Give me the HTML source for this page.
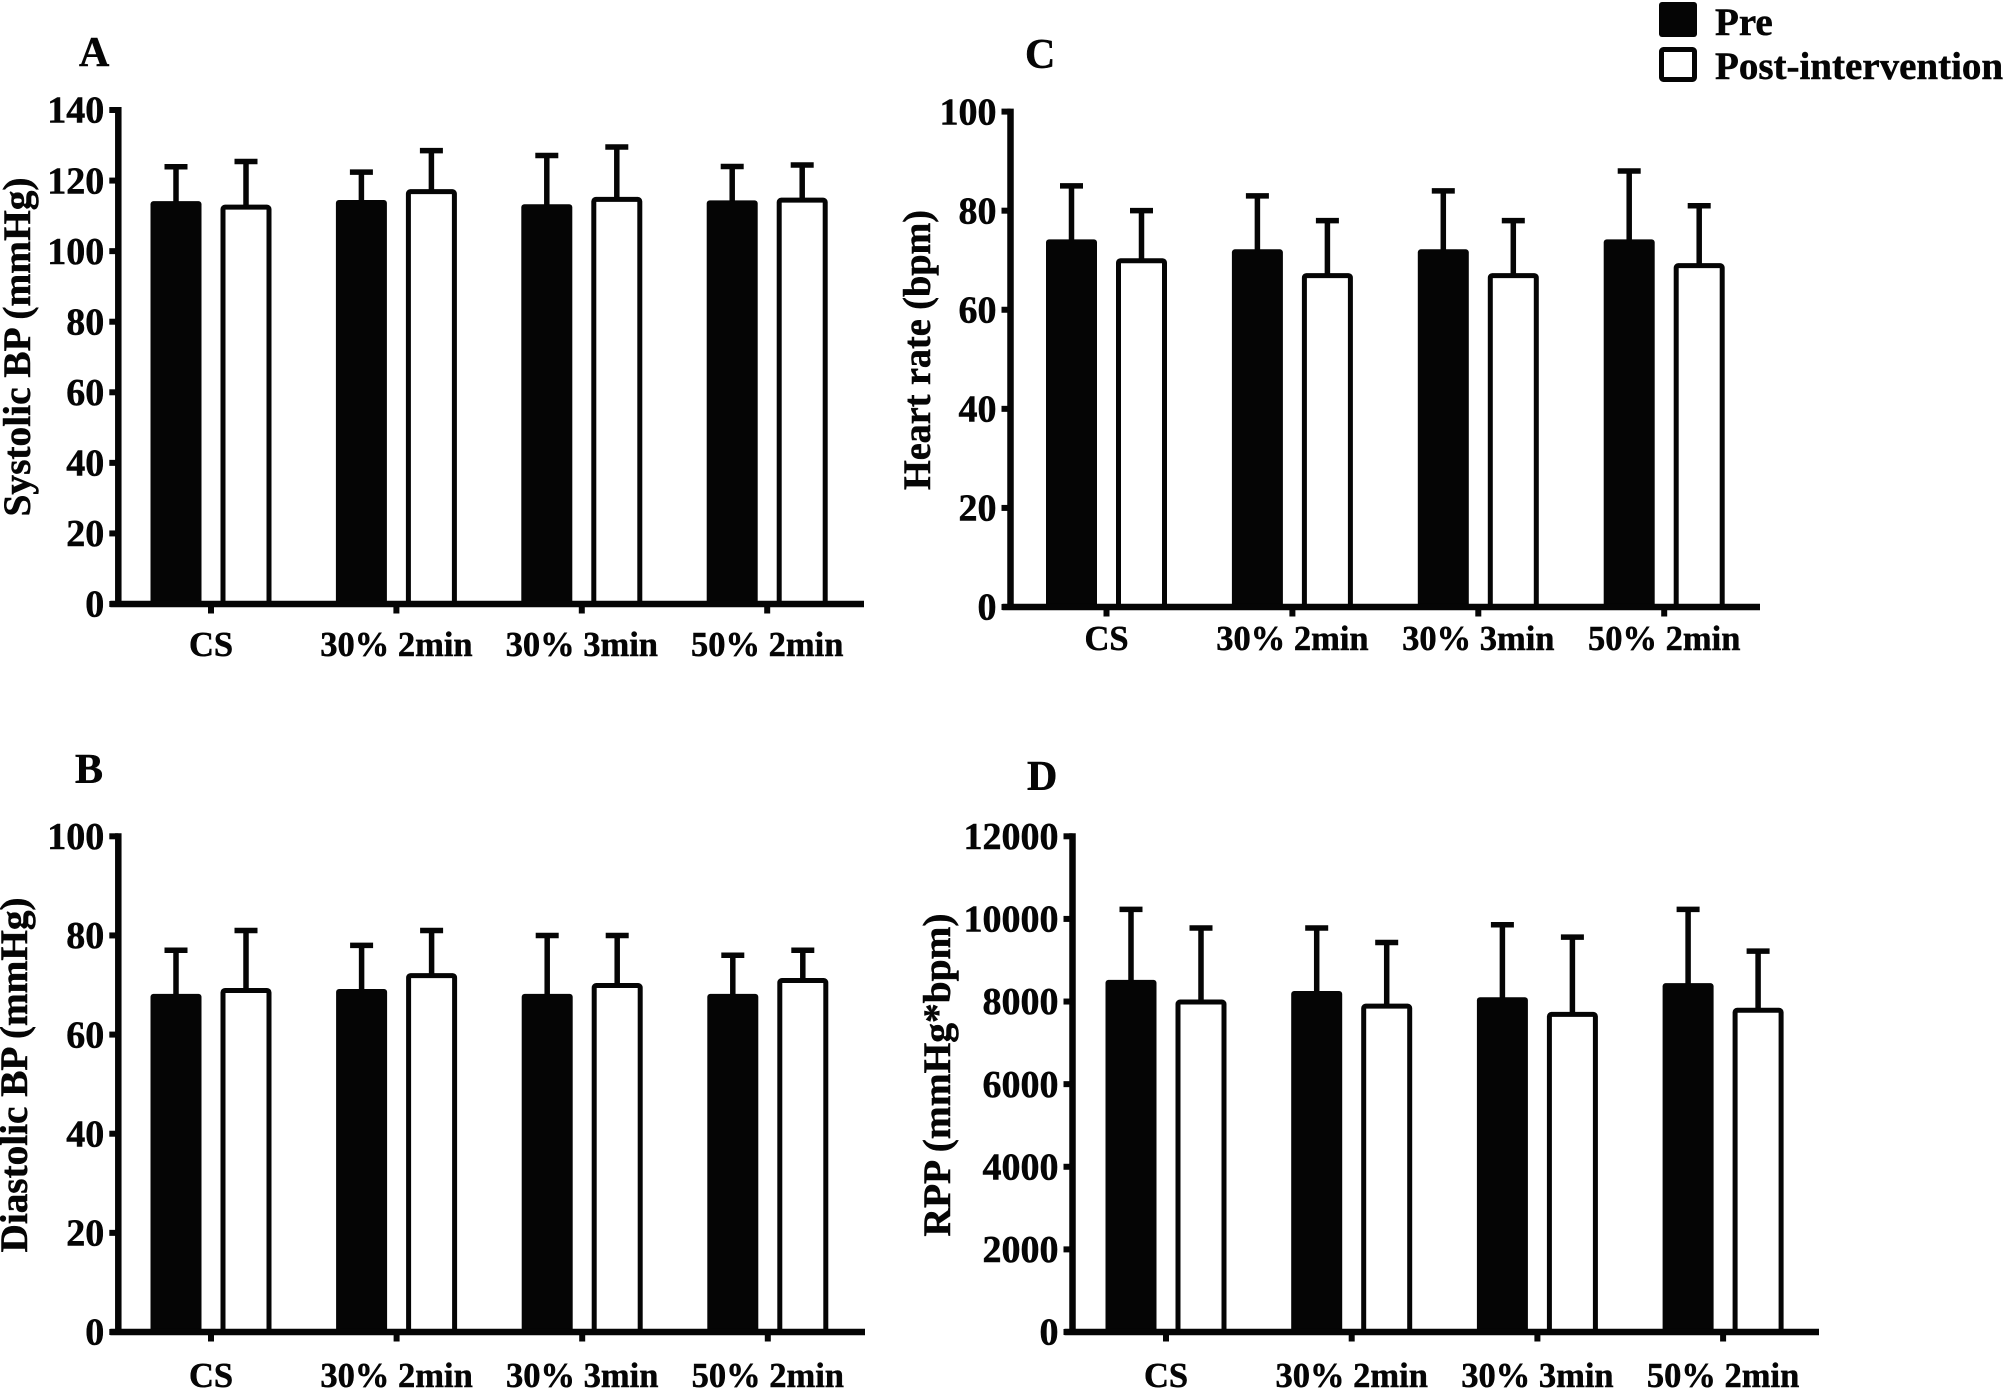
<!DOCTYPE html>
<html lang="en">
<head>
<meta charset="utf-8">
<title>Blood pressure, heart rate and RPP, pre and post intervention</title>
<style>
  html, body { margin: 0; padding: 0; background: #fff; }
  body { width: 2004px; height: 1389px; overflow: hidden; }
  svg { display: block; }
  text { font-family: "Liberation Serif", serif; font-weight: bold; fill: #050505; stroke: #050505; stroke-width: 0.5px; }
</style>
</head>
<body>
<svg id="figure" xmlns="http://www.w3.org/2000/svg" width="2004" height="1389" viewBox="0 0 2004 1389">
  <rect x="0" y="0" width="2004" height="1389" fill="#fff"/>

  <text x="79" y="66" font-size="42">A</text>
  <text x="75" y="783" font-size="42">B</text>
  <text x="1025" y="68" font-size="42">C</text>
  <text x="1027" y="790" font-size="42">D</text>

  <text transform="translate(30 347) rotate(-90)" text-anchor="middle" font-size="39" textLength="339" lengthAdjust="spacingAndGlyphs">Systolic BP (mmHg)</text>
  <text transform="translate(27 1075) rotate(-90)" text-anchor="middle" font-size="39" textLength="355" lengthAdjust="spacingAndGlyphs">Diastolic BP (mmHg)</text>
  <text transform="translate(930 350) rotate(-90)" text-anchor="middle" font-size="39" textLength="280" lengthAdjust="spacingAndGlyphs">Heart rate (bpm)</text>
  <text transform="translate(950 1075) rotate(-90)" text-anchor="middle" font-size="39" textLength="323" lengthAdjust="spacingAndGlyphs">RPP (mmHg*bpm)</text>

  <g>
    <rect x="1659" y="2" width="38" height="35" rx="3" fill="#050505"/>
    <text x="1715" y="35" font-size="39">Pre</text>
    <rect x="1661.5" y="49.5" width="33" height="30" rx="2" fill="#fff" stroke="#050505" stroke-width="5"/>
    <text x="1715" y="79" font-size="39">Post-intervention</text>
  </g>
</svg>

<script>
// Shared category labels
const categories = ['CS', '30% 2min', '30% 3min', '50% 2min'];

// Panel A: systolic BP (mmHg)
const ticksA = [0, 20, 40, 60, 80, 100, 120, 140];
const preA = [113.9, 114.2, 113, 114.1];
const postA = [112.6, 117, 114.8, 114.6];
const preUpperA = [123.9, 122.4, 127.1, 124];
const postUpperA = [125.4, 128.5, 129.5, 124.4];

// Panel B: diastolic BP (mmHg)
const ticksB = [0, 20, 40, 60, 80, 100];
const preB = [68, 69, 68, 68];
const postB = [69, 72, 70, 71];
const preUpperB = [77, 78, 80, 76];
const postUpperB = [81, 81, 80, 77];

// Panel C: heart rate (bpm)
const ticksC = [0, 20, 40, 60, 80, 100];
const preC = [74, 72, 72, 74];
const postC = [70, 67, 67, 69];
const preUpperC = [85, 83, 84, 88];
const postUpperC = [80, 78, 78, 81];

// Panel D: rate pressure product (mmHg*bpm)
const ticksD = [0, 2000, 4000, 6000, 8000, 10000, 12000];
const preD = [8500, 8230, 8080, 8420];
const postD = [8000, 7900, 7700, 7800];
const preUpperD = [10230, 9780, 9860, 10230];
const postUpperD = [9780, 9430, 9560, 9220];

const INK = '#050505';
const SVG_NS = 'http://www.w3.org/2000/svg';
const svg = document.getElementById('figure');

function make(parent, tag, attrs) {
  const el = document.createElementNS(SVG_NS, tag);
  for (const key in attrs) el.setAttribute(key, attrs[key]);
  parent.appendChild(el);
  return el;
}

function drawErrorBar(g, x, yBar, yCap) {
  const stem = make(g, 'line', { x1: x, x2: x, y1: yBar, y2: yCap, stroke: INK, 'stroke-width': 5.5 });
  
  
  const cap = make(g, 'line', { x1: x - 11.5, x2: x + 11.5, y1: yCap, y2: yCap, stroke: INK, 'stroke-width': 5.5 });
  
  
}

function drawPanel(frame, ticks, pre, post, preUpper, postUpper) {
  const maxValue = ticks[ticks.length - 1];
  const yScale = v => frame.base - (v / maxValue) * (frame.base - frame.top);
  const xScale = i => frame.tick0 + i * frame.step;

  const g = make(svg, 'g', {});
  
  

  // Bars and error bars
  categories.forEach((cat, i) => {
    const cx = xScale(i);
    const preX = cx - 35;
    const postX = cx + 35;

    drawErrorBar(g, preX, yScale(pre[i]), yScale(preUpper[i]));
    drawErrorBar(g, postX, yScale(post[i]), yScale(postUpper[i]));

    const preBar = make(g, 'rect', {
      x: preX - 25.5, y: yScale(pre[i]) - 1, width: 51,
      height: frame.base - yScale(pre[i]) + 1, rx: 3, fill: INK
    });
    
    

    const postBar = make(g, 'rect', {
      x: postX - 23, y: yScale(post[i]) + 0.5, width: 46,
      height: frame.base - yScale(post[i]) - 0.5, rx: 2,
      fill: '#fff', stroke: INK, 'stroke-width': 5
    });
    
    

    const xTick = make(g, 'line', { x1: cx, x2: cx, y1: frame.base, y2: frame.base + 9.5, stroke: INK, 'stroke-width': 6 });
    
    

    const xLabel = make(g, 'text', { x: cx, y: frame.labelY, 'text-anchor': 'middle', 'font-size': 34.5 });
    
    
    xLabel.textContent = cat;
  });

  // Axis lines
  const yAxis = make(g, 'line', { x1: frame.spine, x2: frame.spine, y1: frame.top - 3, y2: frame.base + 3, stroke: INK, 'stroke-width': 6.5 });
  
  

  const xAxis = make(g, 'line', { x1: frame.spine - 8, x2: frame.right, y1: frame.base, y2: frame.base, stroke: INK, 'stroke-width': 6.5 });
  
  

  // Y ticks and labels
  ticks.forEach(t => {
    const y = yScale(t);
    const yTick = make(g, 'line', { x1: frame.spine - 9, x2: frame.spine, y1: y, y2: y, stroke: INK, 'stroke-width': 6 });
    
    

    const yLabel = make(g, 'text', { x: frame.spine - 14, y: y + 12.7, 'text-anchor': 'end', 'font-size': 38 });
    
    
    yLabel.textContent = String(t);
  });
}

drawPanel({ id: 'a', spine: 118.3, top: 110, base: 604, right: 864, tick0: 211, step: 185.4, labelY: 656 },
  ticksA, preA, postA, preUpperA, postUpperA);
drawPanel({ id: 'b', spine: 118.3, top: 836.3, base: 1332, right: 865, tick0: 211, step: 185.6, labelY: 1387 },
  ticksB, preB, postB, preUpperB, postUpperB);
drawPanel({ id: 'c', spine: 1010.5, top: 111.6, base: 607, right: 1760, tick0: 1106.5, step: 185.9, labelY: 650 },
  ticksC, preC, postC, preUpperC, postUpperC);
drawPanel({ id: 'd', spine: 1072.5, top: 836.3, base: 1332, right: 1819, tick0: 1166, step: 185.7, labelY: 1387 },
  ticksD, preD, postD, preUpperD, postUpperD);
</script>
</body>
</html>
